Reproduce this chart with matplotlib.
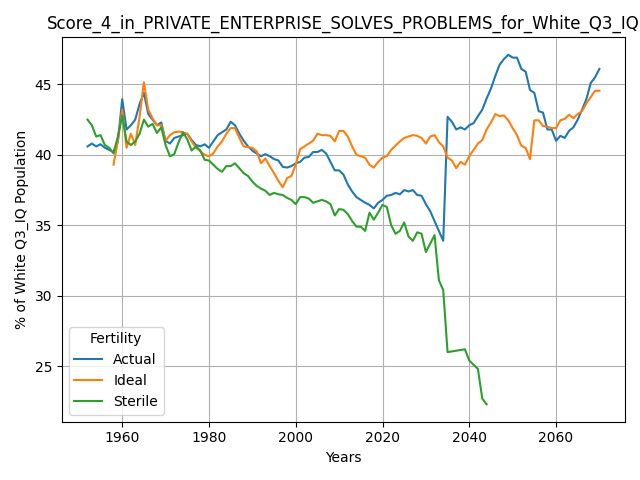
import numpy as np
import matplotlib
matplotlib.use("Agg")
import matplotlib.pyplot as plt

# yearly values
actual_years = list(range(1952, 2071))
actual = [40.6, 40.8, 40.6, 40.75, 40.5, 40.35, 40.2, 40.95, 43.95, 41.8,
          42.1, 42.5, 43.6, 44.4, 42.9, 42.5, 42.1, 42.3, 41.0, 40.8,
          41.2, 41.3, 41.4, 41.5, 41.05, 40.7, 40.6, 40.75, 40.5, 40.95,
          41.4, 41.6, 41.8, 42.35, 42.1, 41.5, 41.0, 40.6, 40.3, 40.1,
          39.9, 40.05, 39.9, 39.7, 39.6, 39.15, 39.1, 39.2, 39.4, 39.5,
          39.8, 39.85, 40.2, 40.2, 40.35, 40.1, 39.5, 38.9, 38.9, 38.6,
          37.9, 37.4, 37.0, 36.8, 36.6, 36.45, 36.2, 36.6, 36.8, 37.1,
          37.15, 37.3, 37.2, 37.5, 37.4, 37.5, 37.15, 37.1, 36.5, 36.0,
          35.3, 34.6, 33.9, 42.7, 42.35, 41.8, 41.95, 41.8, 42.1, 42.25,
          42.75, 43.2, 44.0, 44.7, 45.6, 46.4, 46.8, 47.1, 46.9, 46.9,
          46.1, 45.9, 44.6, 44.4, 43.1, 43.0, 41.8, 41.8, 41.0, 41.35,
          41.2, 41.7, 41.95, 42.5, 43.2, 43.95, 45.1, 45.5, 46.1]

ideal_years = list(range(1958, 2071))
ideal = [39.3, 41.0, 43.2, 40.5, 41.5, 40.7, 42.7, 45.15, 43.2, 42.6,
         42.1, 42.1, 41.0, 41.4, 41.6, 41.65, 41.6, 41.5, 40.95, 40.5,
         40.25, 40.0, 39.9, 40.1, 40.6, 40.95, 41.5, 41.9, 41.9, 41.2,
         40.6, 40.55, 40.5, 40.25, 39.4, 39.75, 39.2, 38.7, 38.15, 37.7,
         38.35, 38.5, 39.3, 40.4, 40.6, 40.8, 41.0, 41.5, 41.4, 41.4,
         41.35, 40.95, 41.7, 41.7, 41.3, 40.6, 40.0, 39.9, 39.8, 39.3,
         39.1, 39.5, 39.8, 39.9, 40.35, 40.65, 40.95, 41.2, 41.3, 41.4,
         41.35, 41.2, 40.8, 41.3, 41.4, 40.9, 40.6, 39.8, 39.6, 39.05,
         39.5, 39.3, 39.9, 40.35, 40.8, 41.05, 41.8, 42.3, 42.9, 42.75,
         42.8, 42.45, 41.9, 41.4, 40.65, 40.5, 39.7, 42.45, 42.45, 42.05,
         42.0, 41.9, 41.9, 42.45, 42.55, 42.85, 42.6, 42.9, 43.1, 43.65,
         44.1, 44.55, 44.55]

sterile_years = list(range(1952, 2045))
sterile = [42.5, 42.1, 41.3, 41.4, 40.7, 40.5, 40.1, 41.3, 42.8, 40.95,
           40.7, 40.95, 41.5, 42.5, 42.0, 42.2, 41.55, 41.95, 40.7, 39.9,
           40.05, 40.9, 41.6, 41.1, 40.3, 40.6, 40.3, 39.65, 39.6, 39.3,
           39.0, 38.8, 39.2, 39.2, 39.4, 39.05, 38.7, 38.5, 38.1, 37.8,
           37.6, 37.45, 37.15, 37.3, 37.2, 37.15, 36.95, 36.8, 36.5, 37.0,
           37.0, 36.9, 36.6, 36.7, 36.8, 36.7, 36.5, 35.7, 36.15, 36.1,
           35.8, 35.3, 34.9, 34.9, 34.6, 35.9, 35.4, 35.9, 36.45, 36.3,
           35.0, 34.4, 34.6, 35.2, 34.2, 33.9, 34.5, 34.4, 33.1, 33.7,
           34.3, 31.1, 30.4, 26.0, 26.05, 26.1, 26.15, 26.2, 25.4, 25.1,
           24.8, 22.7, 22.3]

plt.figure(figsize=(6.4, 4.8), dpi=100)
plt.plot(actual_years, actual, label='Actual')
plt.plot(ideal_years, ideal, label='Ideal')
plt.plot(sterile_years, sterile, label='Sterile')

plt.title('Score_4_in_PRIVATE_ENTERPRISE_SOLVES_PROBLEMS_for_White_Q3_IQ')
plt.xlabel('Years')
plt.ylabel('% of White Q3_IQ Population')
plt.legend(title='Fertility', loc='lower left')
plt.grid(True)

plt.tight_layout()
plt.savefig('out.png', dpi=100)
